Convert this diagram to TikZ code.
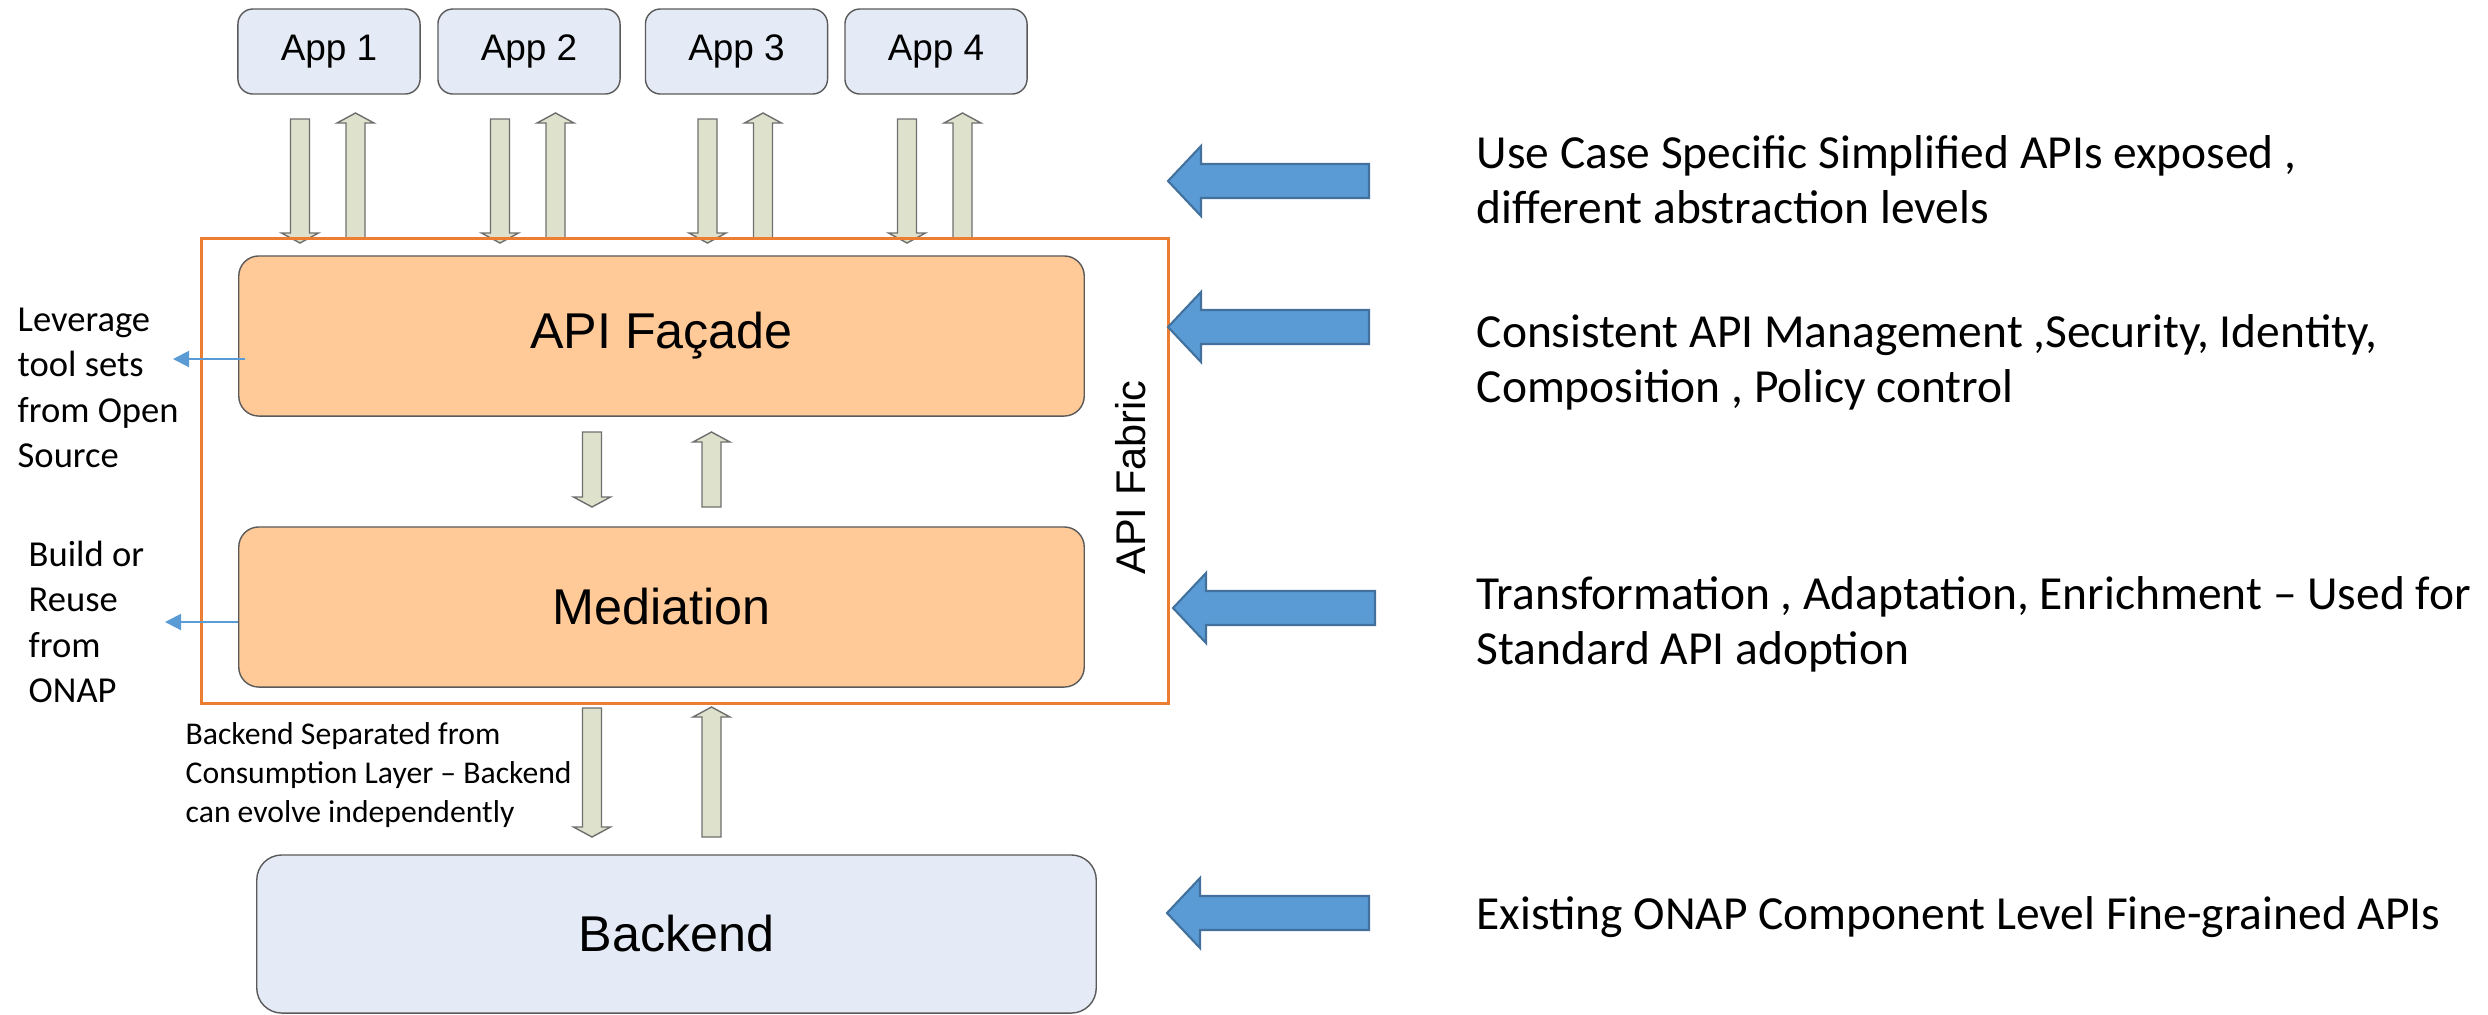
\documentclass[tikz,border=0pt]{standalone}
\usepackage{fontspec}
\setmainfont{Carlito}
\newfontfamily\arialfont{Liberation Sans}
\usetikzlibrary{arrows.meta,calc}

\definecolor{appblue}{HTML}{E5EBF6}
\definecolor{boxline}{HTML}{5A5A5A}
\definecolor{peach}{HTML}{FFCA98}
\definecolor{sage}{HTML}{DEE2CC}
\definecolor{sageline}{HTML}{6E6E6E}
\definecolor{fabricorange}{HTML}{ED7D31}
\definecolor{callblue}{HTML}{5B9BD5}
\definecolor{callline}{HTML}{41719C}

\tikzset{
  appbox/.style={draw=boxline, fill=appblue, rounded corners=0.15cm, line width=0.4pt,
    minimum width=1.82cm, minimum height=0.85cm, font=\arialfont\fontsize{10.5}{12}\selectfont},
  layerbox/.style={draw=boxline, fill=peach, rounded corners=0.2cm, line width=0.4pt,
    minimum width=8.45cm, minimum height=1.6cm, font=\arialfont\fontsize{14.3}{17}\selectfont},
  fabricbox/.style={draw=fabricorange, line width=0.8pt, minimum width=9.66cm, minimum height=4.64cm},
  sagearrow/.style={draw=sageline, fill=sage, line width=0.4pt},
  bigarrow/.style={draw=callline, fill=callblue, line width=0.6pt},
  thinarrow/.style={draw=callblue, line width=0.6pt, -{Triangle[length=0.16cm,width=0.16cm]}},
  note/.style={align=left, inner sep=0pt, anchor=base west},
}

\newcommand{\sagearr}[3]{%
  \pgfmathsetmacro{\headbase}{#3-10*sign(#3-#2)}
  \draw[sagearrow] ({#1-9.5},#2) -- ({#1+9.5},#2) -- ({#1+9.5},\headbase) -- ({#1+18.5},\headbase)
    -- (#1,#3) -- ({#1-18.5},\headbase) -- ({#1-9.5},\headbase) -- cycle;}
\newcommand{\callarr}[3]{%
  \draw[bigarrow] (#1,#2) -- (#1+33,#2-35) -- (#1+33,#2-17) -- (#3,#2-17) -- (#3,#2+17)
    -- (#1+33,#2+17) -- (#1+33,#2+35) -- cycle;}

\begin{document}
\begin{tikzpicture}[x=0.01cm,y=-0.01cm]
\useasboundingbox (0,0) rectangle (2488,1014);
\foreach \i/\x in {1/329,2/529,3/736.5,4/936}{
  \node[appbox] (app\i) at (\x,51.5) {App \i};
  \sagearr{\x-29}{119}{243}
  \sagearr{\x+26.5}{239}{113}
}
\node[layerbox] (facade) at (661.5,336) {API Façade};
\node[layerbox] (mediation) at (661.5,607) {Mediation};
\node[layerbox, fill=appblue, minimum width=8.39cm, minimum height=1.58cm, rounded corners=0.25cm] (backend) at (676.5,934) {Backend};
\sagearr{592}{432}{507}
\sagearr{711.5}{507}{432}
\sagearr{592}{708}{837}
\sagearr{711.5}{837}{707}
\node[fabricbox] (fabric) at (685,471) {};
\node[rotate=90, font=\arialfont\fontsize{11.8}{14}\selectfont] (fabriclabel) at (1131,477.5) {API Fabric};

\node[note, font=\fontsize{10.4}{12.8}\selectfont] (leverage) at (17,467) {Leverage\\tool sets\\from Open\\Source};
\node[note, font=\fontsize{10.4}{12.8}\selectfont] (reuse) at (28,702) {Build or\\Reuse\\from\\ONAP};
\coordinate (levtip) at (173,359);
\coordinate (reusetip) at (165,622);
\draw[thinarrow] ($(facade.west |- levtip)+(7,0)$) -- (levtip);
\draw[thinarrow] (mediation.west |- reusetip) -- (reusetip);
\node[note, font=\fontsize{9}{11}\selectfont] (separated) at (185,822) {Backend Separated from\\Consumption Layer – Backend\\can evolve independently};

\callarr{1168}{181}{1369}
\callarr{1168}{327}{1369}
\callarr{1173}{608}{1375}
\callarr{1167}{913}{1369}
\node[note, font=\fontsize{13.5}{15.4}\selectfont] (usecase) at (1476,223) {Use Case Specific Simplified APIs exposed ,\\different abstraction levels};
\node[note, font=\fontsize{13.5}{15.4}\selectfont] (mgmt) at (1476,402) {Consistent API Management ,Security, Identity,\\Composition , Policy control};
\node[note, font=\fontsize{13.5}{15.4}\selectfont] (transform) at (1476,664) {Transformation , Adaptation, Enrichment – Used for\\Standard API adoption};
\node[note, font=\fontsize{13.5}{15.4}\selectfont] (existing) at (1476,929) {Existing ONAP Component Level Fine-grained APIs};
\end{tikzpicture}
\end{document}
